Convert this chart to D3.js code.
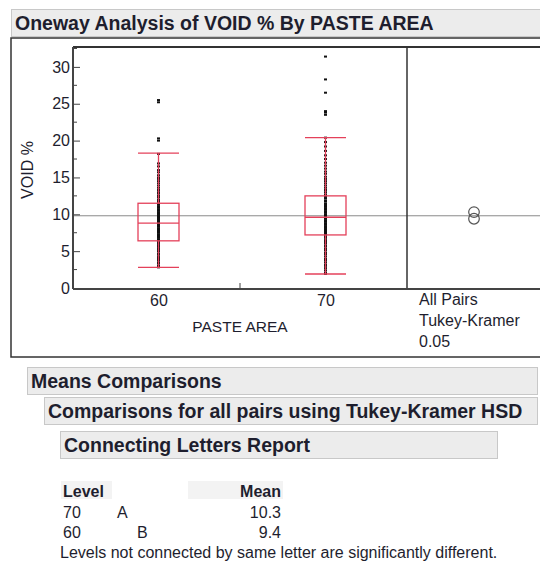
<!DOCTYPE html>
<html>
<head>
<meta charset="utf-8">
<script src="https://cdn.jsdelivr.net/npm/d3@7"></script>
<style>
body { margin: 0; background: #fff; }
svg { display: block; font-family: "Liberation Sans", Arial, sans-serif; }
</style>
</head>
<body>
<div id="chart"></div>
<script>
// box summaries per level
var levels = ["60", "70"];
var q1 = [6.4, 7.2],
	med = [8.8, 9.6],
	q3 = [11.5, 12.5],
	whiskLo = [2.8, 1.9],
	whiskHi = [18.3, 20.4];
var means = [9.4, 10.3];
var grandMean = 9.8;

// raw points
var pts60 = [2.8, 3.0, 3.3, 3.5, 3.8, 4.0, 4.2, 4.5, 4.7, 5.0, 5.2, 5.4, 5.6, 5.8, 6.0, 6.1, 6.3, 6.5, 6.6, 6.8,
	7.0, 7.1, 7.3, 7.5, 7.6, 7.8, 8.0, 8.1, 8.3, 8.5, 8.6, 8.8, 9.0, 9.1, 9.3, 9.5, 9.7, 9.9, 10.1, 10.3,
	10.5, 10.7, 10.9, 11.1, 11.3, 11.5, 11.8, 12.0, 12.3, 12.5, 12.8, 13.0, 13.3, 13.6, 13.9, 14.2, 14.5,
	14.8, 15.0, 15.3, 15.7, 16.0, 16.5, 16.9, 18.2, 20.0, 20.3, 25.2, 25.5];
var pts70 = [1.9, 2.1, 2.4, 2.7, 3.0, 3.2, 3.5, 3.8, 4.0, 4.3, 4.6, 4.8, 5.1, 5.3, 5.6, 5.8, 6.1, 6.3, 6.5, 6.8,
	7.0, 7.2, 7.4, 7.6, 7.8, 8.0, 8.2, 8.4, 8.6, 8.8, 9.0, 9.2, 9.4, 9.6, 9.8, 10.0, 10.2, 10.4, 10.6, 10.8,
	11.0, 11.2, 11.4, 11.7, 11.9, 12.2, 12.4, 12.7, 13.0, 13.3, 13.6, 13.9, 14.2, 14.5, 14.8, 15.1, 15.5,
	15.8, 16.2, 16.6, 17.0, 17.5, 18.0, 18.6, 19.2, 19.8, 20.4, 23.5, 23.8, 24.0, 26.5, 28.3, 31.4];

var yTicks = [0, 5, 10, 15, 20, 25, 30];
var yMinor = [2.5, 7.5, 12.5, 17.5, 22.5, 27.5, 32.5];

// connecting letters report
var tableLevels = ["70", "60"],
	tableLetters = ["A", "B"],
	tableLetterCol = [0, 1],
	tableMeans = [10.3, 9.4];

var width = 540, height = 563;
var textCol = "#1e1e2e", boxCol = "#e4405a";

var svg = d3.select("#chart").append("svg")
	.attr("width", width)
	.attr("height", height);

// title bar
svg.append("rect").attr("x", 11.5).attr("y", 9.5).attr("width", 540).attr("height", 27)
	.attr("fill", "#ececec").attr("stroke", "#c8c8c8");
svg.append("text").attr("x", 15).attr("y", 30)
	.attr("font-size", 19.5).attr("font-weight", "bold").attr("fill", textCol)
	.text("Oneway Analysis of VOID % By PASTE AREA");

// outer frame
svg.append("rect").attr("x", 11).attr("y", 38).attr("width", 545).attr("height", 319)
	.attr("fill", "none").attr("stroke", "#333").attr("stroke-width", 1.5);

var pLeft = 73, pRight = 407, pTop = 47, pBottom = 288;

var y = d3.scaleLinear().domain([0, 32.7]).range([pBottom, pTop]);
var x = d3.scalePoint().domain(levels).range([pLeft + 2, pRight + 2]).padding(0.5);
var boxW = 41;

// grand mean line across plot and comparison panel
svg.append("line").attr("x1", pLeft).attr("x2", 545)
	.attr("y1", y(grandMean)).attr("y2", y(grandMean))
	.attr("stroke", "#8a8a8a").attr("stroke-width", 1);

// points
var pts = [];
pts60.forEach(function(v) { pts.push({lev: "60", v: v}); });
pts70.forEach(function(v) { pts.push({lev: "70", v: v}); });
svg.append("g").selectAll("rect").data(pts).enter().append("rect")
	.attr("x", function(d) { return x(d.lev) - 1.5; })
	.attr("y", function(d) { return y(d.v) - 1; })
	.attr("width", 3).attr("height", 2)
	.attr("fill", "#111");

// box plots
var boxes = svg.append("g").selectAll("g").data(levels).enter().append("g")
	.attr("stroke", boxCol).attr("stroke-width", 1.3).attr("fill", "none");
boxes.append("rect")
	.attr("x", function(d) { return x(d) - boxW / 2; })
	.attr("y", function(d, i) { return y(q3[i]); })
	.attr("width", boxW)
	.attr("height", function(d, i) { return y(q1[i]) - y(q3[i]); });
boxes.append("line")
	.attr("x1", function(d) { return x(d) - boxW / 2; })
	.attr("x2", function(d) { return x(d) + boxW / 2; })
	.attr("y1", function(d, i) { return y(med[i]); })
	.attr("y2", function(d, i) { return y(med[i]); });
boxes.append("line")
	.attr("x1", function(d) { return x(d); }).attr("x2", function(d) { return x(d); })
	.attr("y1", function(d, i) { return y(q3[i]); })
	.attr("y2", function(d, i) { return y(whiskHi[i]); });
boxes.append("line")
	.attr("x1", function(d) { return x(d); }).attr("x2", function(d) { return x(d); })
	.attr("y1", function(d, i) { return y(q1[i]); })
	.attr("y2", function(d, i) { return y(whiskLo[i]); });
[whiskHi, whiskLo].forEach(function(arr) {
	boxes.append("line")
		.attr("x1", function(d) { return x(d) - boxW / 2; })
		.attr("x2", function(d) { return x(d) + boxW / 2; })
		.attr("y1", function(d, i) { return y(arr[i]); })
		.attr("y2", function(d, i) { return y(arr[i]); });
});

// comparison circles
var circR = y(0) - y(0.72);
svg.append("g").selectAll("circle").data(means).enter().append("circle")
	.attr("cx", 474).attr("cy", function(d) { return y(d); }).attr("r", circR)
	.attr("fill", "none").attr("stroke", "#555").attr("stroke-width", 1.2);

// frame lines
svg.append("line").attr("x1", pLeft).attr("x2", 545).attr("y1", pTop).attr("y2", pTop)
	.attr("stroke", "#333").attr("stroke-width", 2);
svg.append("line").attr("x1", pRight).attr("x2", pRight).attr("y1", pTop).attr("y2", pBottom)
	.attr("stroke", "#333").attr("stroke-width", 1.5);
svg.append("line").attr("x1", pRight).attr("x2", 545).attr("y1", pBottom + 1).attr("y2", pBottom + 1)
	.attr("stroke", "#444").attr("stroke-width", 2);

// y axis, ticks point inward
var yAxis = svg.append("g").attr("transform", "translate(" + pLeft + ",0)")
	.call(d3.axisLeft(y).tickValues(yTicks).tickSizeInner(-7).tickSizeOuter(0).tickPadding(3));
yAxis.select(".domain").attr("stroke", "#444").attr("stroke-width", 2).attr("d", "M0," + pTop + "V" + (pBottom + 1));
yAxis.selectAll(".tick line").attr("stroke", "#444");
yAxis.selectAll("text").attr("font-size", 16).attr("fill", textCol).attr("font-family", null);
svg.append("g").selectAll("line").data(yMinor).enter().append("line")
	.attr("x1", pLeft).attr("x2", pLeft + 4)
	.attr("y1", function(d) { return y(d); }).attr("y2", function(d) { return y(d); })
	.attr("stroke", "#444");

// x axis
var xAxis = svg.append("g").attr("transform", "translate(0," + (pBottom + 1) + ")")
	.call(d3.axisBottom(x).tickSize(0).tickPadding(6));
xAxis.select(".domain").attr("stroke", "#444").attr("stroke-width", 2).attr("d", "M" + pLeft + ",0H" + pRight);
xAxis.selectAll("text").attr("font-size", 16).attr("fill", textCol).attr("font-family", null);
svg.append("line").attr("x1", (pLeft + pRight) / 2).attr("x2", (pLeft + pRight) / 2)
	.attr("y1", pBottom + 1).attr("y2", pBottom - 5).attr("stroke", "#444");

svg.append("text").attr("x", 240).attr("y", 332).attr("text-anchor", "middle")
	.attr("font-size", 15.5).attr("fill", textCol).text("PASTE AREA");
svg.append("text").attr("transform", "translate(33,170) rotate(-90)").attr("text-anchor", "middle")
	.attr("font-size", 16).attr("fill", textCol).text("VOID %");

["All Pairs", "Tukey-Kramer", "0.05"].forEach(function(t, i) {
	svg.append("text").attr("x", 419).attr("y", 305 + i * 21)
		.attr("font-size", 16).attr("fill", textCol).text(t);
});

// report headers
var heads = [
	{t: "Means Comparisons", x: 27, y: 367, w: 510},
	{t: "Comparisons for all pairs using Tukey-Kramer HSD", x: 44, y: 397, w: 493},
	{t: "Connecting Letters Report", x: 60, y: 431, w: 437}
];
heads.forEach(function(h) {
	svg.append("rect").attr("x", h.x + 0.5).attr("y", h.y + 0.5).attr("width", h.w).attr("height", 27)
		.attr("fill", "#ececec").attr("stroke", "#c8c8c8");
	svg.append("text").attr("x", h.x + 4).attr("y", h.y + 20.5)
		.attr("font-size", 19.5).attr("font-weight", "bold").attr("fill", textCol).text(h.t);
});

// table
svg.append("rect").attr("x", 61).attr("y", 481).attr("width", 51).attr("height", 18).attr("fill", "#f3f3f3");
svg.append("rect").attr("x", 188).attr("y", 481).attr("width", 95).attr("height", 18).attr("fill", "#f3f3f3");
svg.append("text").attr("x", 63).attr("y", 497).attr("font-size", 16).attr("font-weight", "bold")
	.attr("fill", textCol).text("Level");
svg.append("text").attr("x", 281).attr("y", 497).attr("text-anchor", "end").attr("font-size", 16)
	.attr("font-weight", "bold").attr("fill", textCol).text("Mean");
tableLevels.forEach(function(lv, i) {
	var ty = 518 + i * 20;
	svg.append("text").attr("x", 63).attr("y", ty).attr("font-size", 16).attr("fill", textCol).text(lv);
	svg.append("text").attr("x", 117 + tableLetterCol[i] * 20).attr("y", ty).attr("font-size", 16)
		.attr("fill", textCol).text(tableLetters[i]);
	svg.append("text").attr("x", 281).attr("y", ty).attr("text-anchor", "end").attr("font-size", 16)
		.attr("fill", textCol).text(d3.format(".1f")(tableMeans[i]));
});
svg.append("text").attr("x", 60).attr("y", 558).attr("font-size", 16).attr("fill", textCol)
	.text("Levels not connected by same letter are significantly different.");
</script>
</body>
</html>
